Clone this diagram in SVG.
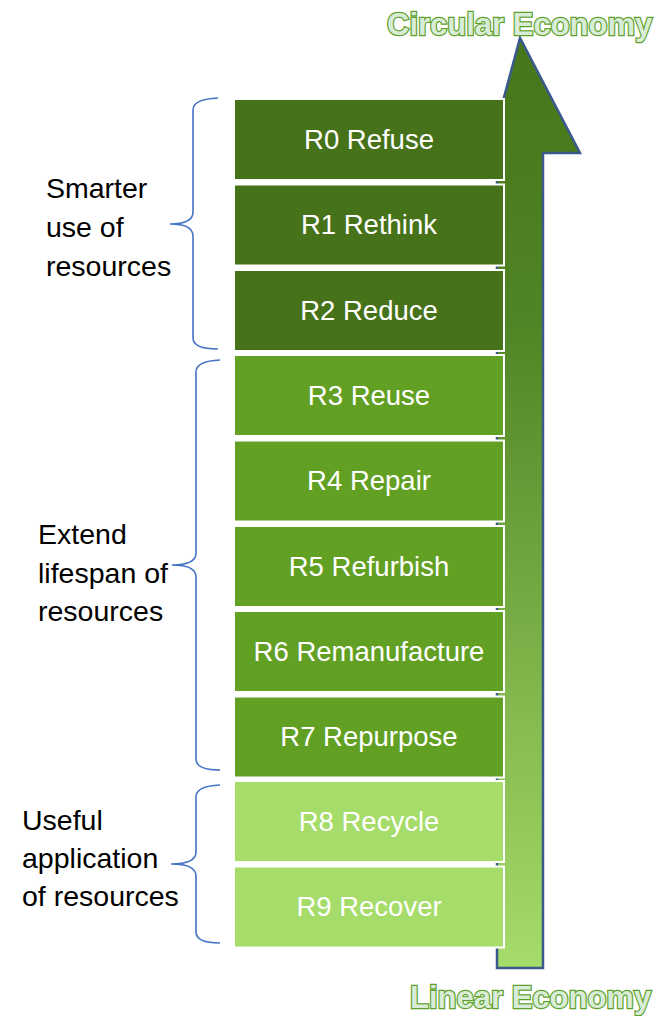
<svg xmlns="http://www.w3.org/2000/svg" width="659" height="1016" viewBox="0 0 659 1016">
  <defs>
    <linearGradient id="arrowFill" x1="0" y1="0" x2="0" y2="1">
      <stop offset="0" stop-color="#477619"/>
      <stop offset="0.3" stop-color="#4f8424"/>
      <stop offset="1" stop-color="#a6dc6a"/>
    </linearGradient>
    <style>
      .box { stroke: #ffffff; stroke-width: 2; }
      .dark { fill: #467219; }
      .mid { fill: #62a024; }
      .light { fill: #a5dc6a; }
      .lbl { font-family: "Liberation Sans", Arial, sans-serif; font-size: 27.5px; fill: #ffffff; text-anchor: middle; dominant-baseline: central; }
      .side { font-family: "Liberation Sans", Arial, sans-serif; font-size: 28.5px; fill: #000000; }
      .brace { fill: none; stroke: #4472c4; stroke-width: 1.6; }
      .title { font-family: "Liberation Sans", Arial, sans-serif; font-weight: bold; font-size: 31px; fill: #d8ecd8; stroke: #5ea02a; stroke-width: 2.4; paint-order: stroke; }
    </style>
  </defs>

  <!-- Upward arrow from linear to circular economy -->
  <g id="arrow">
    <path d="M497,968 L497,153 L489,153 L520,38 L580,153 L543,153 L543,968 Z" fill="url(#arrowFill)" stroke="#3a5a8c" stroke-width="2.5" stroke-linejoin="miter"/>
  </g>

  <!-- The ten R strategies -->
  <g id="r0"><rect class="box dark" x="234" y="99" width="270" height="81"/><text class="lbl" x="369" y="139">R0 Refuse</text></g>
  <g id="r1"><rect class="box dark" x="234" y="184.5" width="270" height="81"/><text class="lbl" x="369" y="224.5">R1 Rethink</text></g>
  <g id="r2"><rect class="box dark" x="234" y="270" width="270" height="81"/><text class="lbl" x="369" y="310">R2 Reduce</text></g>
  <g id="r3"><rect class="box mid" x="234" y="355" width="270" height="81"/><text class="lbl" x="369" y="395">R3 Reuse</text></g>
  <g id="r4"><rect class="box mid" x="234" y="440.5" width="270" height="81"/><text class="lbl" x="369" y="480.5">R4 Repair</text></g>
  <g id="r5"><rect class="box mid" x="234" y="526" width="270" height="81"/><text class="lbl" x="369" y="566">R5 Refurbish</text></g>
  <g id="r6"><rect class="box mid" x="234" y="611" width="270" height="81"/><text class="lbl" x="369" y="651">R6 Remanufacture</text></g>
  <g id="r7"><rect class="box mid" x="234" y="696.5" width="270" height="81"/><text class="lbl" x="369" y="736.5">R7 Repurpose</text></g>
  <g id="r8"><rect class="box light" x="234" y="781" width="270" height="81"/><text class="lbl" x="369" y="821">R8 Recycle</text></g>
  <g id="r9"><rect class="box light" x="234" y="866.5" width="270" height="81"/><text class="lbl" x="369" y="906.5">R9 Recover</text></g>

  <!-- Grouping braces -->
  <g id="braces">
    <path class="brace" d="M218,98 Q193,99 193,110 L193,212 Q193,224 170,224 Q193,224 193,236 L193,338 Q193,349 218,349"/>
    <path class="brace" d="M220,360 Q196,361 196,372 L196,553 Q196,565 172,565 Q196,565 196,577 L196,759 Q196,770 220,770"/>
    <path class="brace" d="M220,785 Q196,786 196,797 L196,852 Q196,864 171,864 Q196,864 196,876 L196,932 Q196,943 220,943"/>
  </g>

  <!-- Group captions -->
  <g id="smarter-use">
    <text class="side" x="46" y="198">Smarter</text>
    <text class="side" x="46" y="237">use of</text>
    <text class="side" x="46" y="276">resources</text>
  </g>
  <g id="extend-lifespan">
    <text class="side" x="38" y="544">Extend</text>
    <text class="side" x="38" y="583">lifespan of</text>
    <text class="side" x="38" y="621">resources</text>
  </g>
  <g id="useful-application">
    <text class="side" x="22" y="830">Useful</text>
    <text class="side" x="22" y="868">application</text>
    <text class="side" x="22" y="906">of resources</text>
  </g>

  <!-- End labels -->
  <g id="circular-economy"><text class="title" x="387" y="35">Circular Economy</text></g>
  <g id="linear-economy"><text class="title" x="410" y="1008">Linear Economy</text></g>
</svg>
